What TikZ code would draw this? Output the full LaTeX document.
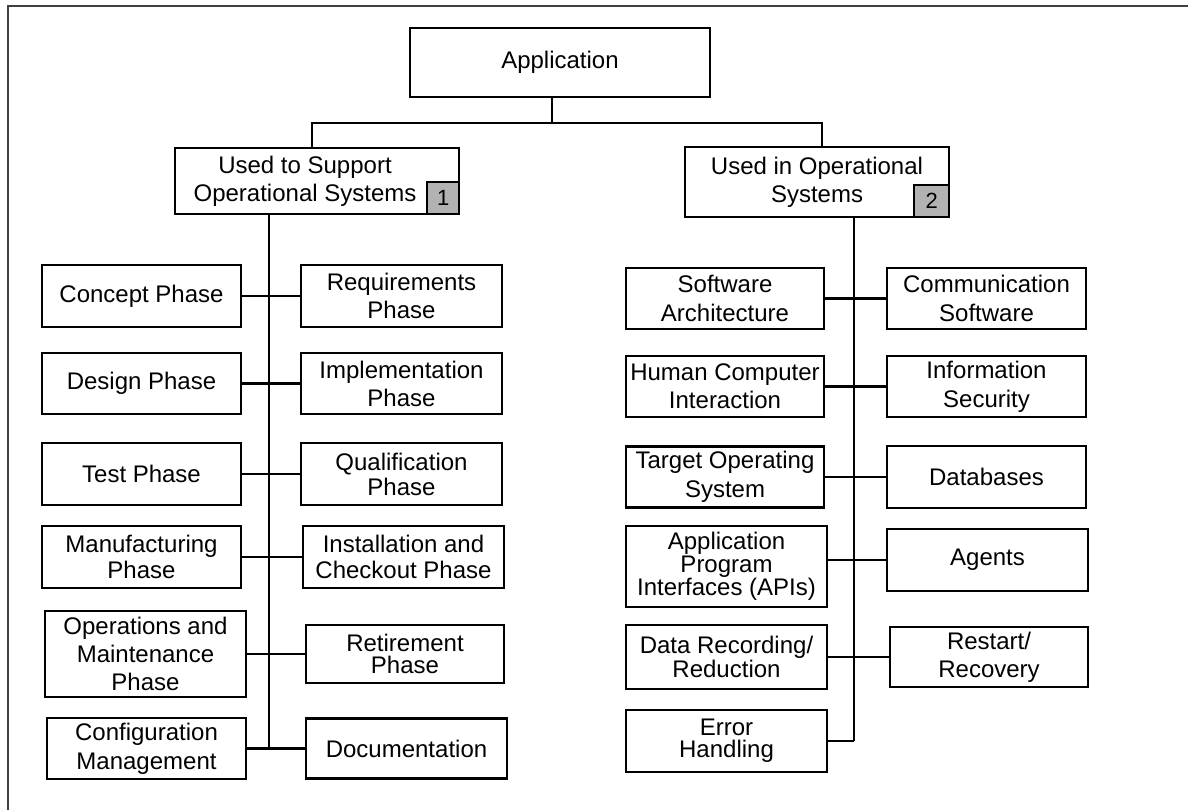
\documentclass[tikz,border=0pt]{standalone}
\usepackage{fontspec}
\setmainfont{Liberation Sans}

\tikzset{
  box/.style={draw, line width=2.5pt, inner sep=0pt, align=center,
    minimum width=199pt, minimum height=62pt, font=\fontsize{24}{28}\selectfont},
  leading/.style={font=\fontsize{24}{#1}\selectfont},
  badge/.style={draw, line width=2pt, fill=gray!60, minimum size=32pt,
    inner sep=0pt, font=\fontsize{22}{24}\selectfont},
  link/.style={line width=2.5pt},
}

\begin{document}
\begin{tikzpicture}[x=1pt, y=-1pt]
            % Page and frame
            \useasboundingbox (0,0) rectangle (1188,810);
            \draw[line width=2pt, black!75] (8,810) -- (8,6) -- (1188,6);

            % Top of the tree
            \node[box, minimum width=300pt, minimum height=69pt] (app) at (560,62.5) {Application};

            % Two branches
            \node[box, minimum width=284pt, minimum height=66pt] (sup) at (317,181) {};
            \node[align=center, font=\fontsize{24}{28}\selectfont] (suptext) at (305,181) {Used to Support\\Operational Systems};
            \node[badge, anchor=south east] (b1) at (sup.south east) {1};
            \node[box, minimum width=264pt, minimum height=70pt] (ops) at (817,182) {Used in Operational\\Systems};
            \node[badge, anchor=south east, minimum width=35pt] (b2) at (ops.south east) {2};

            % Fork under the top box
            \coordinate (fork) at (552,123);
            \draw[link] (fork |- app.south) -- (fork);
            \draw[link] (fork) -| ([xshift=-5pt]sup.north);
            \draw[link] (fork) -| ([xshift=5pt]ops.north);

            % Left branch: life cycle phases
            \node[box] (concept) at (141.5,296) {Concept Phase};
            \node[box, minimum width=201pt] (req) at (401.5,296) {Requirements\\Phase};
            \node[box, minimum height=61pt] (design) at (141.5,383.5) {Design Phase};
            \node[box, minimum width=201pt, minimum height=61pt] (impl) at (401.5,383.5) {Implementation\\Phase};
            \node[box] (test) at (141.5,474) {Test Phase};
            \node[box, minimum width=201pt, leading=25] (qual) at (401.5,474) {Qualification\\Phase};
            \node[box, leading=26] (manuf) at (141.5,557) {Manufacturing\\Phase};
            \node[box, minimum width=201pt, leading=26] (inst) at (403.5,557) {Installation and\\Checkout Phase};
            \node[box, minimum width=201pt, minimum height=86pt] (oper) at (145.5,654) {Operations and\\Maintenance\\Phase};
            \node[box, minimum width=198pt, minimum height=58pt, leading=22] (retire) at (405,654) {Retirement\\Phase};
            \node[box, minimum width=199pt, minimum height=61pt, leading=29] (conf) at (146.5,748.5) {Configuration\\Management};
            \node[box, minimum width=201pt, minimum height=60pt] (doc) at (406.5,748.5) {Documentation};

            % Left trunk and rows
            \coordinate (ltrunk) at (269,0);
            \draw[link] (ltrunk |- sup.south) -- (ltrunk |- conf.east);
            \draw[link] (concept.east) -- (req.west);
            \draw[link] (design.east) -- (impl.west);
            \draw[link] (test.east) -- (qual.west);
            \draw[link] (manuf.east) -- (inst.west);
            \draw[link] (oper.east) -- (retire.west);
            \draw[link] (conf.east) -- (doc.west);

            % Right branch: system topics
            \node[box, minimum width=198pt, minimum height=61pt, leading=29] (arch) at (725,298.5) {Software\\Architecture};
            \node[box, minimum height=61pt, leading=29] (comm) at (986.5,298.5) {Communication\\Software};
            \node[box, minimum width=198pt, minimum height=61pt] (hci) at (725,386.5) {Human Computer\\Interaction};
            \node[box, minimum height=61pt, leading=29] (infosec) at (986.5,386.5) {Information\\Security};
            \node[box, minimum width=198pt, minimum height=61pt, leading=29] (target) at (725,477) {Target Operating\\System};
            \node[box, minimum height=62pt] (db) at (986.5,477) {Databases};
            \node[box, minimum width=201pt, minimum height=81pt, leading=23] (api) at (726.5,566.5) {Application\\Program\\Interfaces (APIs)};
            \node[box, minimum width=201pt] (agents) at (987.5,560) {Agents};
            \node[box, minimum width=201pt, minimum height=64pt, leading=22] (rec) at (726.5,657) {Data Recording/\\Reduction};
            \node[box, minimum width=198pt, minimum height=60pt] (restart) at (989,657) {Restart/\\Recovery};
            \node[box, minimum width=201pt, leading=22] (err) at (726.5,741) {Error\\Handling};

            % Right trunk and rows
            \coordinate (rtrunk) at (854,0);
            \draw[link] (rtrunk |- ops.south) -- (rtrunk |- err.east);
            \draw[link] (arch.east) -- (comm.west);
            \draw[link] (hci.east) -- (infosec.west);
            \draw[link] (target.east) -- (db.west);
            \draw[link] (agents.west) -- (agents.west -| api.east);
            \draw[link] (rec.east) -- (restart.west);
            \draw[link] (err.east) -- (rtrunk |- err.east);

        \end{tikzpicture}
\end{document}
